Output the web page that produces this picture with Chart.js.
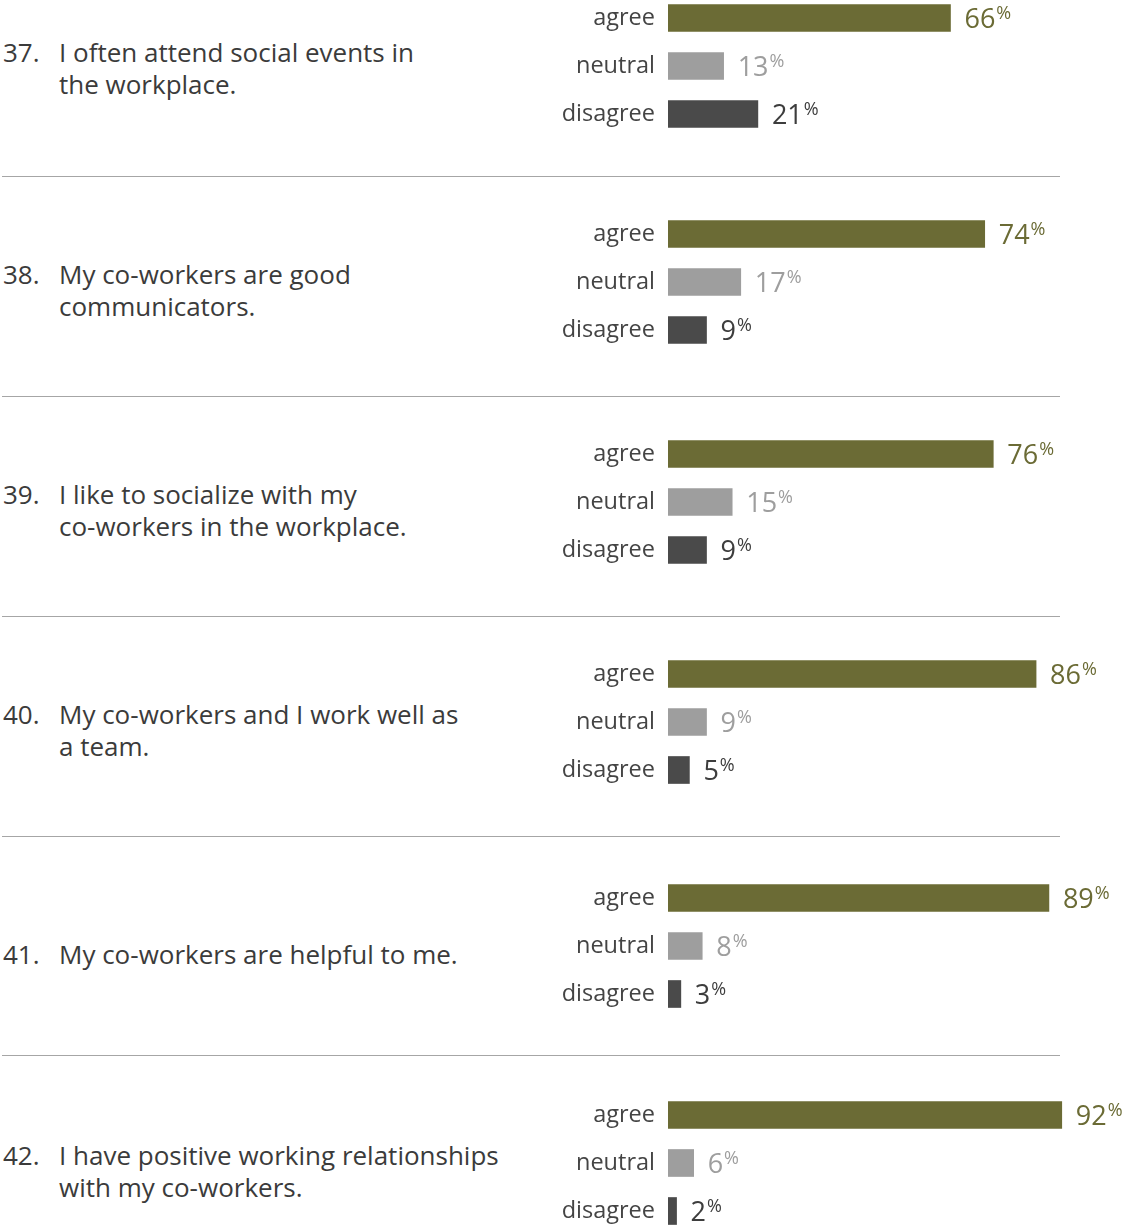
<!DOCTYPE html>
<html>
<head>
<meta charset="utf-8">
<script src="https://cdn.jsdelivr.net/npm/chart.js@4/dist/chart.umd.min.js"></script>
<style>
  body { margin: 0; background: #fff; font-family: "Open Sans", sans-serif; }
  #page { position: relative; width: 1127px; height: 1226px; overflow: hidden; }
  .group { position: absolute; left: 0; width: 1127px; height: 144px; }
  .q { position: absolute; left: 0; height: 144px; width: 540px; display: flex; align-items: center;
       color: #3b3b3b; font-size: 26px; line-height: 32px; }
  .q .num { position: absolute; left: 3px; }
  .q .txt { position: absolute; left: 59px; white-space: pre; }
  .q .wrap { position: relative; width: 100%; }
  .group canvas { position: absolute; left: 540px; top: 0; }
  .sep { position: absolute; left: 2px; width: 1058px; height: 1px; background: #a6a6a6; }
</style>
</head>
<body>
<div id="page"></div>
<script>
// survey items
const numbers = ["37.", "38.", "39.", "40.", "41.", "42."];
const questions = [
  "I often attend social events in\nthe workplace.",
  "My co-workers are good\ncommunicators.",
  "I like to socialize with my\nco-workers in the workplace.",
  "My co-workers and I work well as\na team.",
  "My co-workers are helpful to me.",
  "I have positive working relationships\nwith my co-workers."
];
const responses = ["agree", "neutral", "disagree"];
const agree = [66, 74, 76, 86, 89, 92];
const neutral = [13, 17, 15, 9, 8, 6];
const disagree = [21, 9, 9, 5, 3, 2];

const barColors = ["#6b6b35", "#9e9e9e", "#4a4a4a"];
const valueColors = ["#6b6b35", "#9e9e9e", "#3d3d3d"];

// page layout: vertical centre of each group's first bar, and divider lines
const groupTops = [18, 234, 454, 674, 898, 1115];
const sepTops = [176, 396, 616, 836, 1055];

const page = document.getElementById("page");

// draws "66%" with a small raised percent sign after each bar
const valueLabels = {
  id: "valueLabels",
  afterDatasetsDraw(chart) {
    const ctx = chart.ctx;
    const meta = chart.getDatasetMeta(0);
    const vals = chart.data.datasets[0].data;
    ctx.save();
    meta.data.forEach((bar, i) => {
      const x = bar.x + 14;
      const y = bar.y;
      ctx.fillStyle = valueColors[i];
      ctx.textBaseline = "alphabetic";
      ctx.font = '27px "Open Sans"';
      const s = String(vals[i]);
      ctx.fillText(s, x, y + 10);
      const w = ctx.measureText(s).width;
      ctx.font = '18px "Open Sans"';
      ctx.fillText("%", x + w + 1, y + 1);
    });
    ctx.restore();
  }
};

for (let g = 0; g < questions.length; g++) {
  const center = groupTops[g];
  const div = document.createElement("div");
  div.className = "group";
  div.style.top = (center - 24) + "px";

  const q = document.createElement("div");
  q.className = "q";
  q.style.top = (g > 0 ? 8 : 2) + "px";
  const lines = questions[g].split("\n");
  q.innerHTML = '<div class="wrap" style="height:' + (lines.length * 32) + 'px">' +
    '<span class="num">' + numbers[g] + '</span><span class="txt">' + questions[g] + '</span></div>';
  div.appendChild(q);

  const canvas = document.createElement("canvas");
  canvas.width = 587;
  canvas.height = 144;
  div.appendChild(canvas);
  page.appendChild(div);

  new Chart(canvas, {
    type: "bar",
    data: {
      labels: responses,
      datasets: [{
        data: [agree[g], neutral[g], disagree[g]],
        backgroundColor: barColors,
        barThickness: 27
      }]
    },
    options: {
      indexAxis: "y",
      responsive: false,
      animation: false,
      layout: { padding: { left: 0, right: 31, top: 0, bottom: 0 } },
      plugins: { legend: { display: false }, tooltip: { enabled: false } },
      scales: {
        x: { min: 0, max: 100, display: false },
        y: {
          grid: { display: false, drawTicks: false },
          border: { display: false },
          ticks: { color: "#444", font: { family: "Open Sans", size: 23.5 }, padding: 13 },
          afterFit(scale) {
            scale.width = 128;
            scale.paddingTop = 0;
            scale.paddingBottom = 0;
          }
        }
      }
    },
    plugins: [valueLabels]
  });
}

sepTops.forEach(t => {
  const sep = document.createElement("div");
  sep.className = "sep";
  sep.style.top = t + "px";
  page.appendChild(sep);
});
</script>
</body>
</html>
